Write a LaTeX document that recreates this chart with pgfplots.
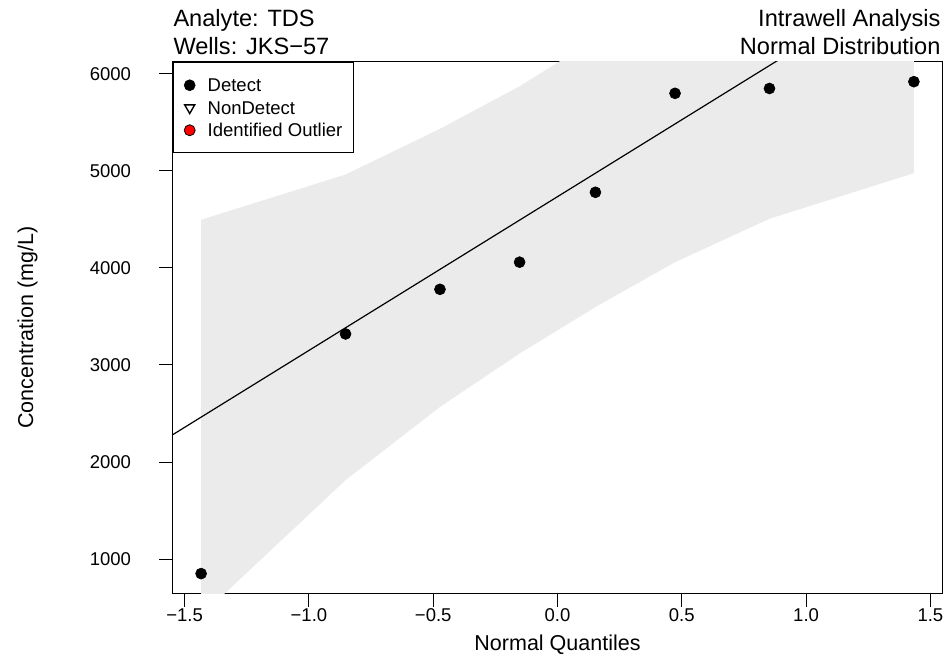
\documentclass[border=0pt]{standalone}
\usepackage{pgfplots}
\pgfplotsset{compat=1.18}
\usepackage{fontspec}
\setmainfont{Liberation Sans}
\definecolor{bandgray}{RGB}{235,235,235}
\definecolor{rred}{RGB}{255,0,0}
\begin{document}
\begin{tikzpicture}
\useasboundingbox (0,0) rectangle (949pt,660pt);
\begin{axis}[
  at={(172.7pt,66.7pt)}, anchor=south west,
  width=769.6pt, height=531.3pt, scale only axis,
  xmin=-1.548, xmax=1.548, ymin=647, ymax=6123,
  xtick={-1.5,-1,-0.5,0,0.5,1,1.5},
  xticklabels={−1.5,−1.0,−0.5,0.0,0.5,1.0,1.5},
  ytick={1000,2000,3000,4000,5000,6000},
  yticklabels={1000,2000,3000,4000,5000,6000},
  tick pos=left, tick align=outside, major tick length=13.5pt,
  tick style={line width=1pt, black},
  axis line style={line width=1pt},
  xticklabel style={anchor=base, yshift=-15.2pt, inner sep=0pt, font=\fontsize{18.5}{22}\selectfont},
  yticklabel style={anchor=east, xshift=-28pt, inner sep=0pt, font=\fontsize{18.5}{22}\selectfont},
  xlabel={Normal Quantiles},
  ylabel={Concentration (mg/L)},
  every axis x label/.style={at={(axis description cs:0.5,-0.1086)}, anchor=base, inner sep=0pt, font=\fontsize{21.5}{25}\selectfont},
  every axis y label/.style={at={(axis description cs:-0.1815,0.5)}, anchor=base, rotate=90, inner sep=0pt, font=\fontsize{21.5}{25}\selectfont},
  legend image code/.code={\draw[#1] plot coordinates {(0pt,0pt)};},
  legend cell align=left,
  legend style={at={(0,1)}, anchor=north west, draw=black, line width=1pt, fill=white,
    inner xsep=11pt, inner ysep=16pt, row sep=9pt, column sep=12.5pt,
    font=\fontsize{18.5}{22}\selectfont,
    nodes={inner sep=0pt, text height=13.5pt, text depth=0pt}},
]
% confidence band
\addplot[fill=bandgray, draw=none, forget plot] coordinates {
 (-1.4337,4497) (-0.8527,4963) (-0.4728,5434) (-0.1525,5872)
 (0.1525,6360) (0.4728,6920) (0.8527,7680) (1.4337,9060)
 (1.4337,4977) (0.8527,4507) (0.4728,4060) (0.1525,3597)
 (-0.1525,3118) (-0.4728,2568) (-0.8527,1813) (-1.4337,417)
} -- cycle;
% fitted line
\addplot[black, line width=1.2pt, forget plot] coordinates {(-1.6,2199) (1.6,7271)};
% observations
\addplot[only marks, mark=*, mark size=5.5pt, black, line width=0.6pt] coordinates {
 (-1.4337,850) (-0.8527,3320) (-0.4728,3780) (-0.1525,4060)
 (0.1525,4780) (0.4728,5800) (0.8527,5850) (1.4337,5920)
};
\addlegendentry{Detect}
\addlegendimage{only marks, mark=triangle, mark size=5.8pt, mark options={rotate=180, draw=black, fill=white, line width=1.4pt}}
\addlegendentry{NonDetect}
\addlegendimage{only marks, mark=*, mark size=5.5pt, mark options={draw=black, fill=rred, line width=0.8pt}}
\addlegendentry{Identified Outlier}
\end{axis}
\node[anchor=base west, inner sep=0pt, font=\fontsize{23.6}{28}\selectfont] at (173.3pt,633.3pt) {Analyte: TDS};
\node[anchor=base west, inner sep=0pt, font=\fontsize{23.6}{28}\selectfont] at (173.3pt,605pt) {Wells: JKS−57};
\node[anchor=base east, inner sep=0pt, font=\fontsize{23.6}{28}\selectfont] at (940.7pt,633.3pt) {Intrawell Analysis};
\node[anchor=base east, inner sep=0pt, font=\fontsize{23.6}{28}\selectfont] at (940.7pt,605pt) {Normal Distribution};
\end{tikzpicture}
\end{document}
